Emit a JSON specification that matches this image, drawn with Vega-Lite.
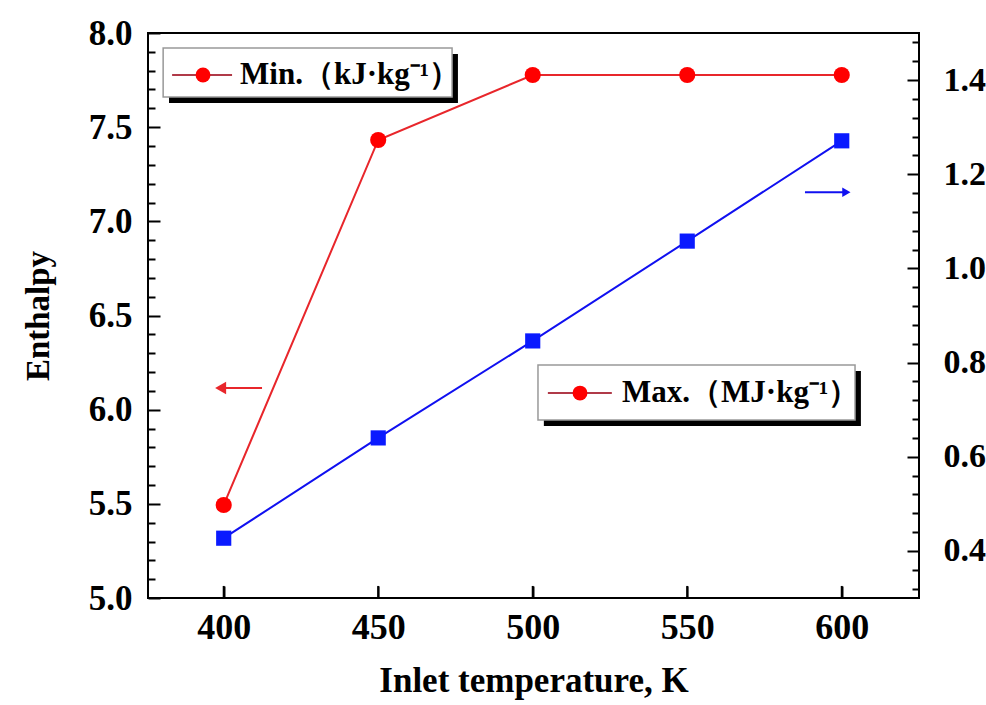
{
  "$schema": "https://vega.github.io/schema/vega-lite/v6.json",
  "width": 771,
  "height": 565,
  "autosize": {"type": "none"},
  "padding": {"left": 148, "top": 33, "right": 67, "bottom": 107},
  "background": "white",
  "config": {
    "view": {"stroke": "black", "strokeWidth": 2},
    "font": "Liberation Serif",
    "axis": {"domain": false, "grid": false, "labelOverlap": false, "zindex": 1, "tickCount": 200, "labelFont": "Liberation Serif", "titleFont": "Liberation Serif", "labelFontWeight": "bold", "titleFontWeight": "bold", "labelColor": "black", "titleColor": "black", "tickColor": "black", "tickWidth": 2}
  },
  "datasets": {
    "enthalpy": [
      {"T": 400, "series": "Min", "value": 5.494},
      {"T": 450, "series": "Min", "value": 7.432},
      {"T": 500, "series": "Min", "value": 7.777},
      {"T": 550, "series": "Min", "value": 7.777},
      {"T": 600, "series": "Min", "value": 7.777},
      {"T": 400, "series": "Max", "value": 0.427},
      {"T": 450, "series": "Max", "value": 0.640},
      {"T": 500, "series": "Max", "value": 0.846},
      {"T": 550, "series": "Max", "value": 1.058},
      {"T": 600, "series": "Max", "value": 1.271}
    ]
  },
  "data": {"name": "enthalpy"},
  "layer": [
    {
      "layer": [
        {
          "transform": [{"filter": "datum.series === 'Min'"}],
          "mark": {"type": "line", "color": "#e8262b", "strokeWidth": 2},
          "encoding": {
            "x": {"field": "T", "type": "quantitative", "scale": {"domain": [375.5, 625], "nice": false, "zero": false},
              "axis": {"values": [400, 450, 500, 550, 600], "ticks": true, "tickSize": -12, "tickCount": 200, "tickColor": "black", "tickOpacity": 1, "tickWidth": 2, "labelOverlap": false, "labelFontSize": 36, "labelPadding": 24, "title": "Inlet temperature, K", "titleFontSize": 35, "titlePadding": 18}},
            "y": {"field": "value", "type": "quantitative", "scale": {"domain": [5, 8], "nice": false, "zero": false},
              "axis": {
                "orient": "left",
                "title": "Enthalpy",
                "titleFontSize": 33,
                "titlePadding": 33,
                "labelFontSize": 35,
                "labelPadding": 28,
                "labelOverlap": false,
                "tickCount": 200,
                "values": [5.0, 5.1, 5.2, 5.3, 5.4, 5.5, 5.6, 5.7, 5.8, 5.9, 6.0, 6.1, 6.2, 6.3, 6.4, 6.5, 6.6, 6.7, 6.8, 6.9, 7.0, 7.1, 7.2, 7.3, 7.4, 7.5, 7.6, 7.7, 7.8, 7.9, 8.0],
                "labelExpr": "abs(datum.value*2 - round(datum.value*2)) < 0.001 ? format(datum.value, '.1f') : ''",
                "tickSize": {"condition": {"test": "abs(datum.value*2 - round(datum.value*2)) < 0.001", "value": -12}, "value": -7}
              }}
          }
        },
        {
          "transform": [{"filter": "datum.series === 'Min'"}],
          "mark": {"type": "rule", "color": "black", "strokeWidth": 2},
          "encoding": {
            "x": {"field": "T", "type": "quantitative"},
            "y": {"datum": 5.0, "type": "quantitative"},
            "y2": {"datum": 5.064}
          }
        },
        {
          "transform": [{"filter": "datum.series === 'Min'"}],
          "mark": {"type": "point", "shape": "circle", "filled": true, "color": "#ff0000", "size": 260, "opacity": 1},
          "encoding": {
            "x": {"field": "T", "type": "quantitative"},
            "y": {"field": "value", "type": "quantitative"}
          }
        },
        {
          "data": {"values": [{}]},
          "mark": {"type": "rule", "color": "#e8262b", "strokeWidth": 2},
          "encoding": {"x": {"datum": 400.0, "type": "quantitative"}, "x2": {"datum": 412.4}, "y": {"datum": 6.115, "type": "quantitative"}}
        },
        {
          "data": {"values": [{}]},
          "mark": {"type": "point", "shape": "triangle-left", "filled": true, "color": "#e8262b", "size": 160, "opacity": 1},
          "encoding": {"x": {"datum": 399.0, "type": "quantitative"}, "y": {"datum": 6.115, "type": "quantitative"}}
        },
        {
          "data": {"values": [{}]},
          "mark": {"type": "rect", "color": "black"},
          "encoding": {"x": {"datum": 382.3, "type": "quantitative"}, "x2": {"datum": 475.8}, "y": {"datum": 7.888, "type": "quantitative"}, "y2": {"datum": 7.628}}
        },
        {
          "data": {"values": [{}]},
          "mark": {"type": "rect", "fill": "white", "stroke": "#999999", "strokeWidth": 1.5},
          "encoding": {"x": {"datum": 380.4, "type": "quantitative"}, "x2": {"datum": 473.9}, "y": {"datum": 7.920, "type": "quantitative"}, "y2": {"datum": 7.660}}
        },
        {
          "data": {"values": [{}]},
          "mark": {"type": "rule", "color": "#b03a48", "strokeWidth": 2},
          "encoding": {"x": {"datum": 383.3, "type": "quantitative"}, "x2": {"datum": 402.7}, "y": {"datum": 7.777, "type": "quantitative"}}
        },
        {
          "data": {"values": [{}]},
          "mark": {"type": "point", "shape": "circle", "filled": true, "color": "#ff0000", "size": 220, "opacity": 1},
          "encoding": {"x": {"datum": 393.3, "type": "quantitative"}, "y": {"datum": 7.777, "type": "quantitative"}}
        },
        {
          "data": {"values": [{}]},
          "mark": {"type": "text", "text": "Min.（kJ·kg⁻¹）", "align": "left", "baseline": "middle", "font": "Liberation Serif", "fontWeight": "bold", "fontSize": 31, "color": "black"},
          "encoding": {"x": {"datum": 405.3, "type": "quantitative"}, "y": {"datum": 7.777, "type": "quantitative"}}
        },
        {
          "data": {"values": [{}]},
          "mark": {"type": "rect", "color": "black"},
          "encoding": {"x": {"datum": 503.6, "type": "quantitative"}, "x2": {"datum": 606.2}, "y": {"datum": 6.205, "type": "quantitative"}, "y2": {"datum": 5.913}}
        },
        {
          "data": {"values": [{}]},
          "mark": {"type": "rect", "fill": "white", "stroke": "#999999", "strokeWidth": 1.5},
          "encoding": {"x": {"datum": 501.7, "type": "quantitative"}, "x2": {"datum": 604.3}, "y": {"datum": 6.237, "type": "quantitative"}, "y2": {"datum": 5.945}}
        },
        {
          "data": {"values": [{}]},
          "mark": {"type": "rule", "color": "#b03a48", "strokeWidth": 2},
          "encoding": {"x": {"datum": 504.9, "type": "quantitative"}, "x2": {"datum": 525.6}, "y": {"datum": 6.088, "type": "quantitative"}}
        },
        {
          "data": {"values": [{}]},
          "mark": {"type": "point", "shape": "circle", "filled": true, "color": "#ff0000", "size": 220, "opacity": 1},
          "encoding": {"x": {"datum": 515.3, "type": "quantitative"}, "y": {"datum": 6.088, "type": "quantitative"}}
        },
        {
          "data": {"values": [{}]},
          "mark": {"type": "text", "text": "Max.（MJ·kg⁻¹）", "align": "left", "baseline": "middle", "font": "Liberation Serif", "fontWeight": "bold", "fontSize": 31, "color": "black"},
          "encoding": {"x": {"datum": 528.9, "type": "quantitative"}, "y": {"datum": 6.088, "type": "quantitative"}}
        }
      ]
    },
    {
      "layer": [
        {
          "transform": [{"filter": "datum.series === 'Max'"}],
          "mark": {"type": "line", "color": "#1010f0", "strokeWidth": 2},
          "encoding": {
            "x": {"field": "T", "type": "quantitative",
              "axis": {"values": [400, 450, 500, 550, 600], "ticks": true, "tickSize": -12, "tickCount": 200, "tickColor": "black", "tickOpacity": 1, "tickWidth": 2, "labelOverlap": false, "labelFontSize": 36, "labelPadding": 24, "title": "Inlet temperature, K", "titleFontSize": 35, "titlePadding": 18}},
            "y": {"field": "value", "type": "quantitative", "scale": {"domain": [0.3, 1.5], "nice": false, "zero": false},
              "axis": {
                "orient": "right",
                "title": null,
                "labelFontSize": 34,
                "labelPadding": 36,
                "labelOverlap": false,
                "tickCount": 200,
                "values": [0.32, 0.36, 0.4, 0.44, 0.48, 0.52, 0.56, 0.6, 0.64, 0.68, 0.72, 0.76, 0.8, 0.84, 0.88, 0.92, 0.96, 1.0, 1.04, 1.08, 1.12, 1.16, 1.2, 1.24, 1.28, 1.32, 1.36, 1.4, 1.44, 1.48],
                "labelExpr": "abs(datum.value*5 - round(datum.value*5)) < 0.001 ? format(datum.value, '.1f') : ''",
                "tickSize": {"condition": {"test": "abs(datum.value*5 - round(datum.value*5)) < 0.001", "value": -12}, "value": -7}
              }}
          }
        },
        {
          "transform": [{"filter": "datum.series === 'Max'"}],
          "mark": {"type": "point", "shape": "square", "filled": true, "color": "#0a1aff", "size": 230, "opacity": 1},
          "encoding": {
            "x": {"field": "T", "type": "quantitative"},
            "y": {"field": "value", "type": "quantitative"}
          }
        },
        {
          "data": {"values": [{}]},
          "mark": {"type": "rule", "color": "#1010f0", "strokeWidth": 2},
          "encoding": {"x": {"datum": 588.1, "type": "quantitative"}, "x2": {"datum": 601.8}, "y": {"datum": 1.162, "type": "quantitative"}}
        },
        {
          "data": {"values": [{}]},
          "mark": {"type": "point", "shape": "triangle-right", "filled": true, "color": "#1010f0", "size": 90, "opacity": 1},
          "encoding": {"x": {"datum": 601.5, "type": "quantitative"}, "y": {"datum": 1.162, "type": "quantitative"}}
        }
      ]
    }
  ],
  "resolve": {"scale": {"y": "independent"}, "axis": {"y": "independent"}}
}
